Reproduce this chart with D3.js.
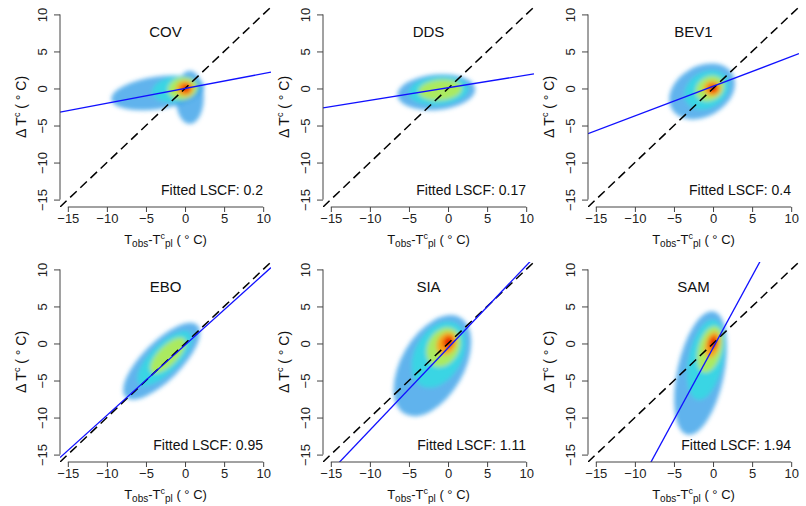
<!DOCTYPE html>
<html><head><meta charset="utf-8">
<script src="https://cdn.jsdelivr.net/npm/d3@7"></script>
<style>body{margin:0;background:#fff}text{font-family:"Liberation Sans",Arial,sans-serif}</style>
</head><body><div id="chart"></div>
<script>
var panelNames = ["COV", "DDS", "BEV1", "EBO", "SIA", "SAM"];
var fitSlopes = [0.2, 0.17, 0.4, 0.95, 1.11, 1.94];
var fitIntercepts = [0.0, 0.1, 0.3, -0.2, -0.6, -0.6];
var fitLabels = ["0.2", "0.17", "0.4", "0.95", "1.11", "1.94"];
var tickValues = [-15, -10, -5, 0, 5, 10];
// density cloud layers per panel: [cx, cy, rx, ry, angleDeg, level]
var clouds = [
  [[-3.5,-0.6,6,2.2,8,0],[0.6,-1.2,1.8,3.6,0,0],[-1.2,-0.1,3,1.7,8,1],[-0.3,0,1.9,1.5,10,2],[0,0,1.1,1,0,3],[0.1,0,0.55,0.55,0,4]],
  [[-1.5,-0.5,5,2.4,5,0],[-1.2,-0.3,3.8,1.9,5,1],[-1,-0.2,2.8,1.4,5,2]],
  [[-1.4,-0.4,4.5,3.4,30,0],[-0.8,-0.2,3,2.4,30,1],[-0.4,0,1.9,1.6,30,2],[-0.1,0,1.1,1,0,3],[0,0,0.55,0.55,0,4]],
  [[-3,-2.4,6.5,2.6,45,0],[-2.6,-2,4.6,1.9,45,1],[-2.2,-1.6,3,1.3,45,2]],
  [[-2,-3,4,7.5,-30,0],[-1.2,-1.5,3,4.8,-30,1],[-0.6,-0.5,2,2.8,-30,2],[-0.2,0,1.2,1.6,-30,3],[0,0.2,0.6,0.8,-30,4]],
  [[-1.6,-4,3,8.5,-12,0],[-0.9,-2.2,2.2,5.5,-12,1],[-0.4,-0.8,1.5,3.2,-15,2],[-0.1,-0.2,0.9,1.8,-15,3],[0,0.1,0.5,0.9,-15,4]]
];
var levelColors = ["#3aa0e8", "#2ee0e0", "#c8f040", "#ff9a10", "#e81800"];
var levelOpacity = [0.8, 0.75, 0.8, 0.9, 0.95];

var W = 806, H = 506;
var colX = [60, 323, 588], rowY = [7, 262];
var pw = 211, ph = 200;

var svg = d3.select("#chart").append("svg").attr("width", W).attr("height", H);
var defs = svg.append("defs");
var blur = defs.append("filter").attr("id", "blur").attr("x", "-50%").attr("y", "-50%").attr("width", "200%").attr("height", "200%");
blur.append("feGaussianBlur").attr("stdDeviation", 2);

panelNames.forEach(function(name, i) {
  var ox = colX[i % 3], oy = rowY[Math.floor(i / 3)];
  var x = d3.scaleLinear().domain([-16, 11]).range([0, pw]);
  var y = d3.scaleLinear().domain([-16, 11]).range([ph, 0]);
  var g = svg.append("g").attr("transform", `translate(${ox},${oy})`);

  defs.append("clipPath").attr("id", "clip" + i)
    .append("rect").attr("width", pw).attr("height", ph);
  var plot = g.append("g").attr("clip-path", `url(#clip${i})`);

  var kx = x(1) - x(0), ky = y(0) - y(1);
  plot.append("g").attr("filter", "url(#blur)")
    .selectAll("ellipse").data(clouds[i]).enter().append("ellipse")
    .attr("transform", d => `translate(${x(d[0])},${y(d[1])}) rotate(${-d[4]})`)
    .attr("rx", d => d[2] * kx).attr("ry", d => d[3] * ky)
    .attr("fill", d => levelColors[d[5]]).attr("opacity", d => levelOpacity[d[5]]);

  // 1:1 line
  plot.append("line").attr("x1", x(-16)).attr("y1", y(-16)).attr("x2", x(11)).attr("y2", y(11))
    .attr("stroke", "#000").attr("stroke-width", 1.5).attr("stroke-dasharray", "9,5");
  // fitted line
  var a = fitSlopes[i], b = fitIntercepts[i];
  plot.append("line").attr("x1", x(-16)).attr("y1", y(a * -16 + b)).attr("x2", x(11)).attr("y2", y(a * 11 + b))
    .attr("stroke", "#1010ff").attr("stroke-width", 1.3);

  var xa = g.append("g").attr("transform", `translate(0,${ph})`)
    .call(d3.axisBottom(x).tickValues(tickValues).tickSize(5).tickPadding(2));
  var ya = g.append("g").call(d3.axisLeft(y).tickValues(tickValues).tickSize(6).tickPadding(3));
  [xa, ya].forEach(function(ax) {
    ax.select(".domain").attr("d", ax === xa ? `M${x(-15)},0H${x(10)}` : `M0,${y(-15)}V${y(10)}`).attr("stroke", "#444");
    ax.selectAll(".tick line").attr("stroke", "#444");
    ax.selectAll("text").attr("font-size", 13).attr("fill", "#222").attr("font-family", "Liberation Sans, Arial");
  });
  ya.selectAll("text").attr("transform", "rotate(-90)").attr("text-anchor", "middle").attr("x", 0).attr("y", -13).attr("dy", 0);

  g.append("text").attr("x", pw / 2).attr("y", 30).attr("text-anchor", "middle")
    .attr("font-size", 15).attr("fill", "#111").text(name);
  g.append("text").attr("x", pw - 8).attr("y", ph - 12).attr("text-anchor", "end")
    .attr("font-size", 14).attr("fill", "#111").text("Fitted LSCF: " + fitLabels[i]);

  var xl = g.append("text").attr("x", x(-2.5)).attr("y", ph + 37).attr("text-anchor", "middle")
    .attr("font-size", 13).attr("fill", "#111");
  xl.append("tspan").text("T");
  xl.append("tspan").attr("font-size", 10).attr("dy", 3).text("obs");
  xl.append("tspan").attr("dy", -3).text("-T");
  xl.append("tspan").attr("font-size", 9).attr("dy", -5).text("c");
  xl.append("tspan").attr("font-size", 10).attr("dy", 8).text("pl");
  xl.append("tspan").attr("dy", -3).text(" ( ° C)");

  var yl = g.append("text").attr("transform", `translate(-34,${y(-2.5)}) rotate(-90)`).attr("text-anchor", "middle")
    .attr("font-size", 14).attr("fill", "#111");
  yl.append("tspan").text("Δ T");
  yl.append("tspan").attr("font-size", 9).attr("dy", -6).text("c");
  yl.append("tspan").attr("dy", 6).text(" ( ° C)");
});
</script></body></html>
